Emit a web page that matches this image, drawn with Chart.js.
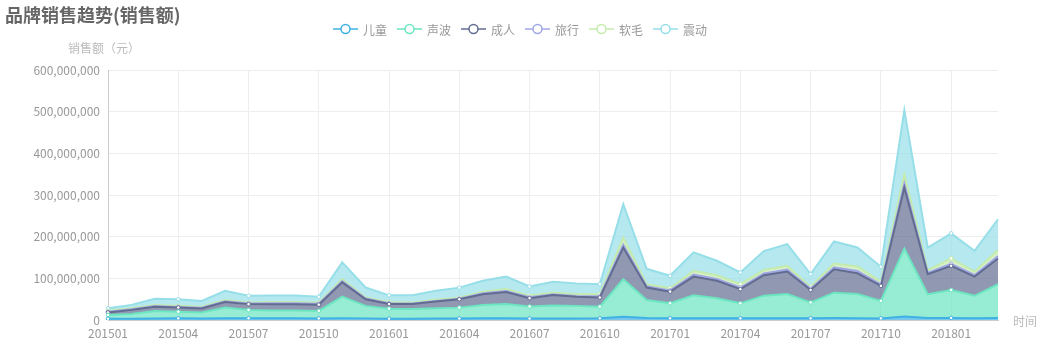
<!DOCTYPE html>
<html lang="zh">
<head>
    <meta charset="UTF-8">
    <title>品牌销售趋势(销售额)</title>
    <script src="https://cdn.jsdelivr.net/npm/chart.js"></script>
    <style>
        body { margin: 0; background: #fff; }
        canvas { display: block; }
    </style>
</head>
<body>
    <canvas id="salesChart" width="1040" height="350"></canvas>

    <script>
        // 月份
        const months = ['201501','201502','201503','201504','201505','201506','201507','201508','201509','201510','201511','201512',
                        '201601','201602','201603','201604','201605','201606','201607','201608','201609','201610','201611','201612',
                        '201701','201702','201703','201704','201705','201706','201707','201708','201709','201710','201711','201712',
                        '201801','201802','201803'];

        // 各品类销售额（元）
        const kids = [3100000,3300000,3800000,4000000,3900000,4200000,4100000,4000000,4000000,3800000,4300000,3900000,
                      3200000,3300000,3400000,3700000,4000000,4200000,3400000,3800000,3900000,4000000,7800000,4800000,
                      4100000,4300000,4200000,4000000,4400000,4300000,4100000,4600000,4200000,3900000,8600000,4900000,
                      5000000,4100000,4800000];
        const sonic = [9000000,11000000,18000000,16000000,14000000,26000000,20000000,19000000,19000000,18000000,52000000,30000000,
                       24000000,23000000,25000000,26000000,32000000,34000000,29000000,31000000,30000000,28000000,90000000,43000000,
                       36000000,55000000,48000000,36000000,54000000,58000000,38000000,61000000,58000000,42000000,163000000,57000000,
                       67000000,54000000,81000000];
        const adult = [6000000,10000000,10000000,10000000,10000000,13000000,14000000,15000000,15000000,15000000,34000000,16000000,
                       11000000,12000000,16000000,20000000,26000000,29000000,20000000,25000000,22000000,22000000,76000000,30000000,
                       28000000,45000000,42000000,34000000,49000000,54000000,30000000,56000000,50000000,36000000,146000000,48000000,
                       58000000,46000000,62000000];
        const travel = [1500000,1500000,1500000,1500000,1500000,2000000,1500000,2000000,2000000,2000000,3000000,1500000,
                        2000000,1500000,1500000,1500000,2000000,2500000,2000000,2000000,2000000,3000000,7000000,3000000,
                        3000000,5000000,4500000,4000000,4500000,5000000,3000000,5000000,5500000,3500000,10000000,3500000,
                        5000000,4000000,6000000];
        const soft = [2500000,2500000,2500000,2500000,2500000,3000000,2500000,3000000,3000000,3000000,5000000,2500000,
                      3000000,2500000,2500000,2500000,4000000,4500000,4000000,4000000,4000000,5000000,17000000,5000000,
                      5000000,9000000,8500000,8000000,8500000,9000000,5000000,9000000,10500000,6500000,22000000,6500000,
                      13000000,8000000,14000000];
        const vibration = [6000000,8000000,15000000,16000000,14000000,22000000,16000000,16000000,16000000,14000000,40000000,24000000,
                           16000000,17000000,22000000,24000000,26000000,30000000,22000000,26000000,26000000,24000000,80000000,37000000,
                           30000000,44000000,35000000,28000000,45000000,52000000,30000000,53000000,46000000,36000000,154000000,54000000,
                           60000000,50000000,74000000];

        const seriesNames = ['儿童', '声波', '成人', '旅行', '软毛', '震动'];
        const seriesData = [kids, sonic, adult, travel, soft, vibration];
        const colors = ['#3fb1e3', '#6be6c1', '#626c91', '#a0a7e6', '#c4ebad', '#96dee8'];

        const FONT = '"Noto Sans CJK SC", "Noto Sans", sans-serif';

        function hexToRgba(hex, a) {
            const n = parseInt(hex.slice(1), 16);
            return `rgba(${(n >> 16) & 255}, ${(n >> 8) & 255}, ${n & 255}, ${a})`;
        }

        // 标题、图例和坐标轴名称（仿 echarts 样式）
        const decorPlugin = {
            id: 'decor',
            afterDraw(chart) {
                const ctx = chart.ctx;
                const area = chart.chartArea;
                ctx.save();

                ctx.fillStyle = '#666';
                ctx.font = 'bold 18px ' + FONT;
                ctx.textBaseline = 'middle';
                ctx.textAlign = 'left';
                ctx.fillText('品牌销售趋势(销售额)', 5, 15);

                // 图例
                ctx.font = '12px ' + FONT;
                const iconW = 25, gap = 5, itemGap = 10;
                const widths = chart.data.datasets.map(d => iconW + gap + ctx.measureText(d.label).width);
                const total = widths.reduce((a, b) => a + b, 0) + itemGap * (widths.length - 1);
                let x = (chart.width - total) / 2;
                const y = 29;
                chart.data.datasets.forEach((d, i) => {
                    ctx.strokeStyle = d.borderColor;
                    ctx.lineWidth = 1.5;
                    ctx.beginPath();
                    ctx.moveTo(x, y);
                    ctx.lineTo(x + iconW, y);
                    ctx.stroke();
                    ctx.beginPath();
                    ctx.arc(x + iconW / 2, y, 4.5, 0, Math.PI * 2);
                    ctx.fillStyle = '#fff';
                    ctx.fill();
                    ctx.stroke();
                    ctx.fillStyle = '#999';
                    ctx.fillText(d.label, x + iconW + gap, y + 1);
                    x += widths[i] + itemGap;
                });

                // 坐标轴名称
                ctx.fillStyle = '#bbb';
                ctx.textAlign = 'center';
                ctx.fillText('销售额（元）', area.left - 4, 48);
                ctx.textAlign = 'left';
                ctx.fillText('时间', area.right + 15, area.bottom + 1);
                ctx.restore();
            }
        };

        const datasets = seriesNames.map((name, i) => ({
            label: name,
            data: seriesData[i],
            borderColor: colors[i],
            backgroundColor: hexToRgba(colors[i], 0.7),
            borderWidth: 2,
            fill: i === 0 ? 'origin' : '-1',
            tension: 0,
            pointRadius: c => (c.dataIndex % 3 === 0 ? 1.8 : 0),
            pointBackgroundColor: '#fff',
            pointBorderColor: colors[i],
            pointBorderWidth: 1,
            pointHoverRadius: 3
        }));

        new Chart(document.getElementById('salesChart'), {
            type: 'line',
            data: { labels: months, datasets: datasets },
            options: {
                responsive: false,
                animation: false,
                layout: { padding: { top: 70, right: 42, bottom: 0, left: 0 } },
                plugins: {
                    legend: { display: false },
                    title: { display: false },
                    tooltip: { mode: 'index', intersect: false }
                },
                scales: {
                    x: {
                        offset: false,
                        grid: {
                            color: c => (c.index % 3 === 0 ? '#eeeeee' : 'transparent'),
                            drawTicks: false
                        },
                        border: { color: '#cccccc' },
                        ticks: {
                            autoSkip: false,
                            maxRotation: 0,
                            padding: 6,
                            color: '#999',
                            font: { size: 12, family: FONT },
                            callback: (v, i) => (i % 3 === 0 ? months[i] : '')
                        },
                        afterFit: s => { s.height = 30; }
                    },
                    y: {
                        stacked: true,
                        min: 0,
                        max: 600000000,
                        grid: { color: '#eeeeee', drawTicks: false },
                        border: { color: '#cccccc' },
                        ticks: {
                            stepSize: 100000000,
                            padding: 8,
                            color: '#999',
                            font: { size: 12, family: FONT },
                            callback: v => v.toLocaleString('en-US')
                        },
                        afterFit: s => { s.width = 108; }
                    }
                }
            },
            plugins: [decorPlugin]
        });
    </script>
</body>
</html>
